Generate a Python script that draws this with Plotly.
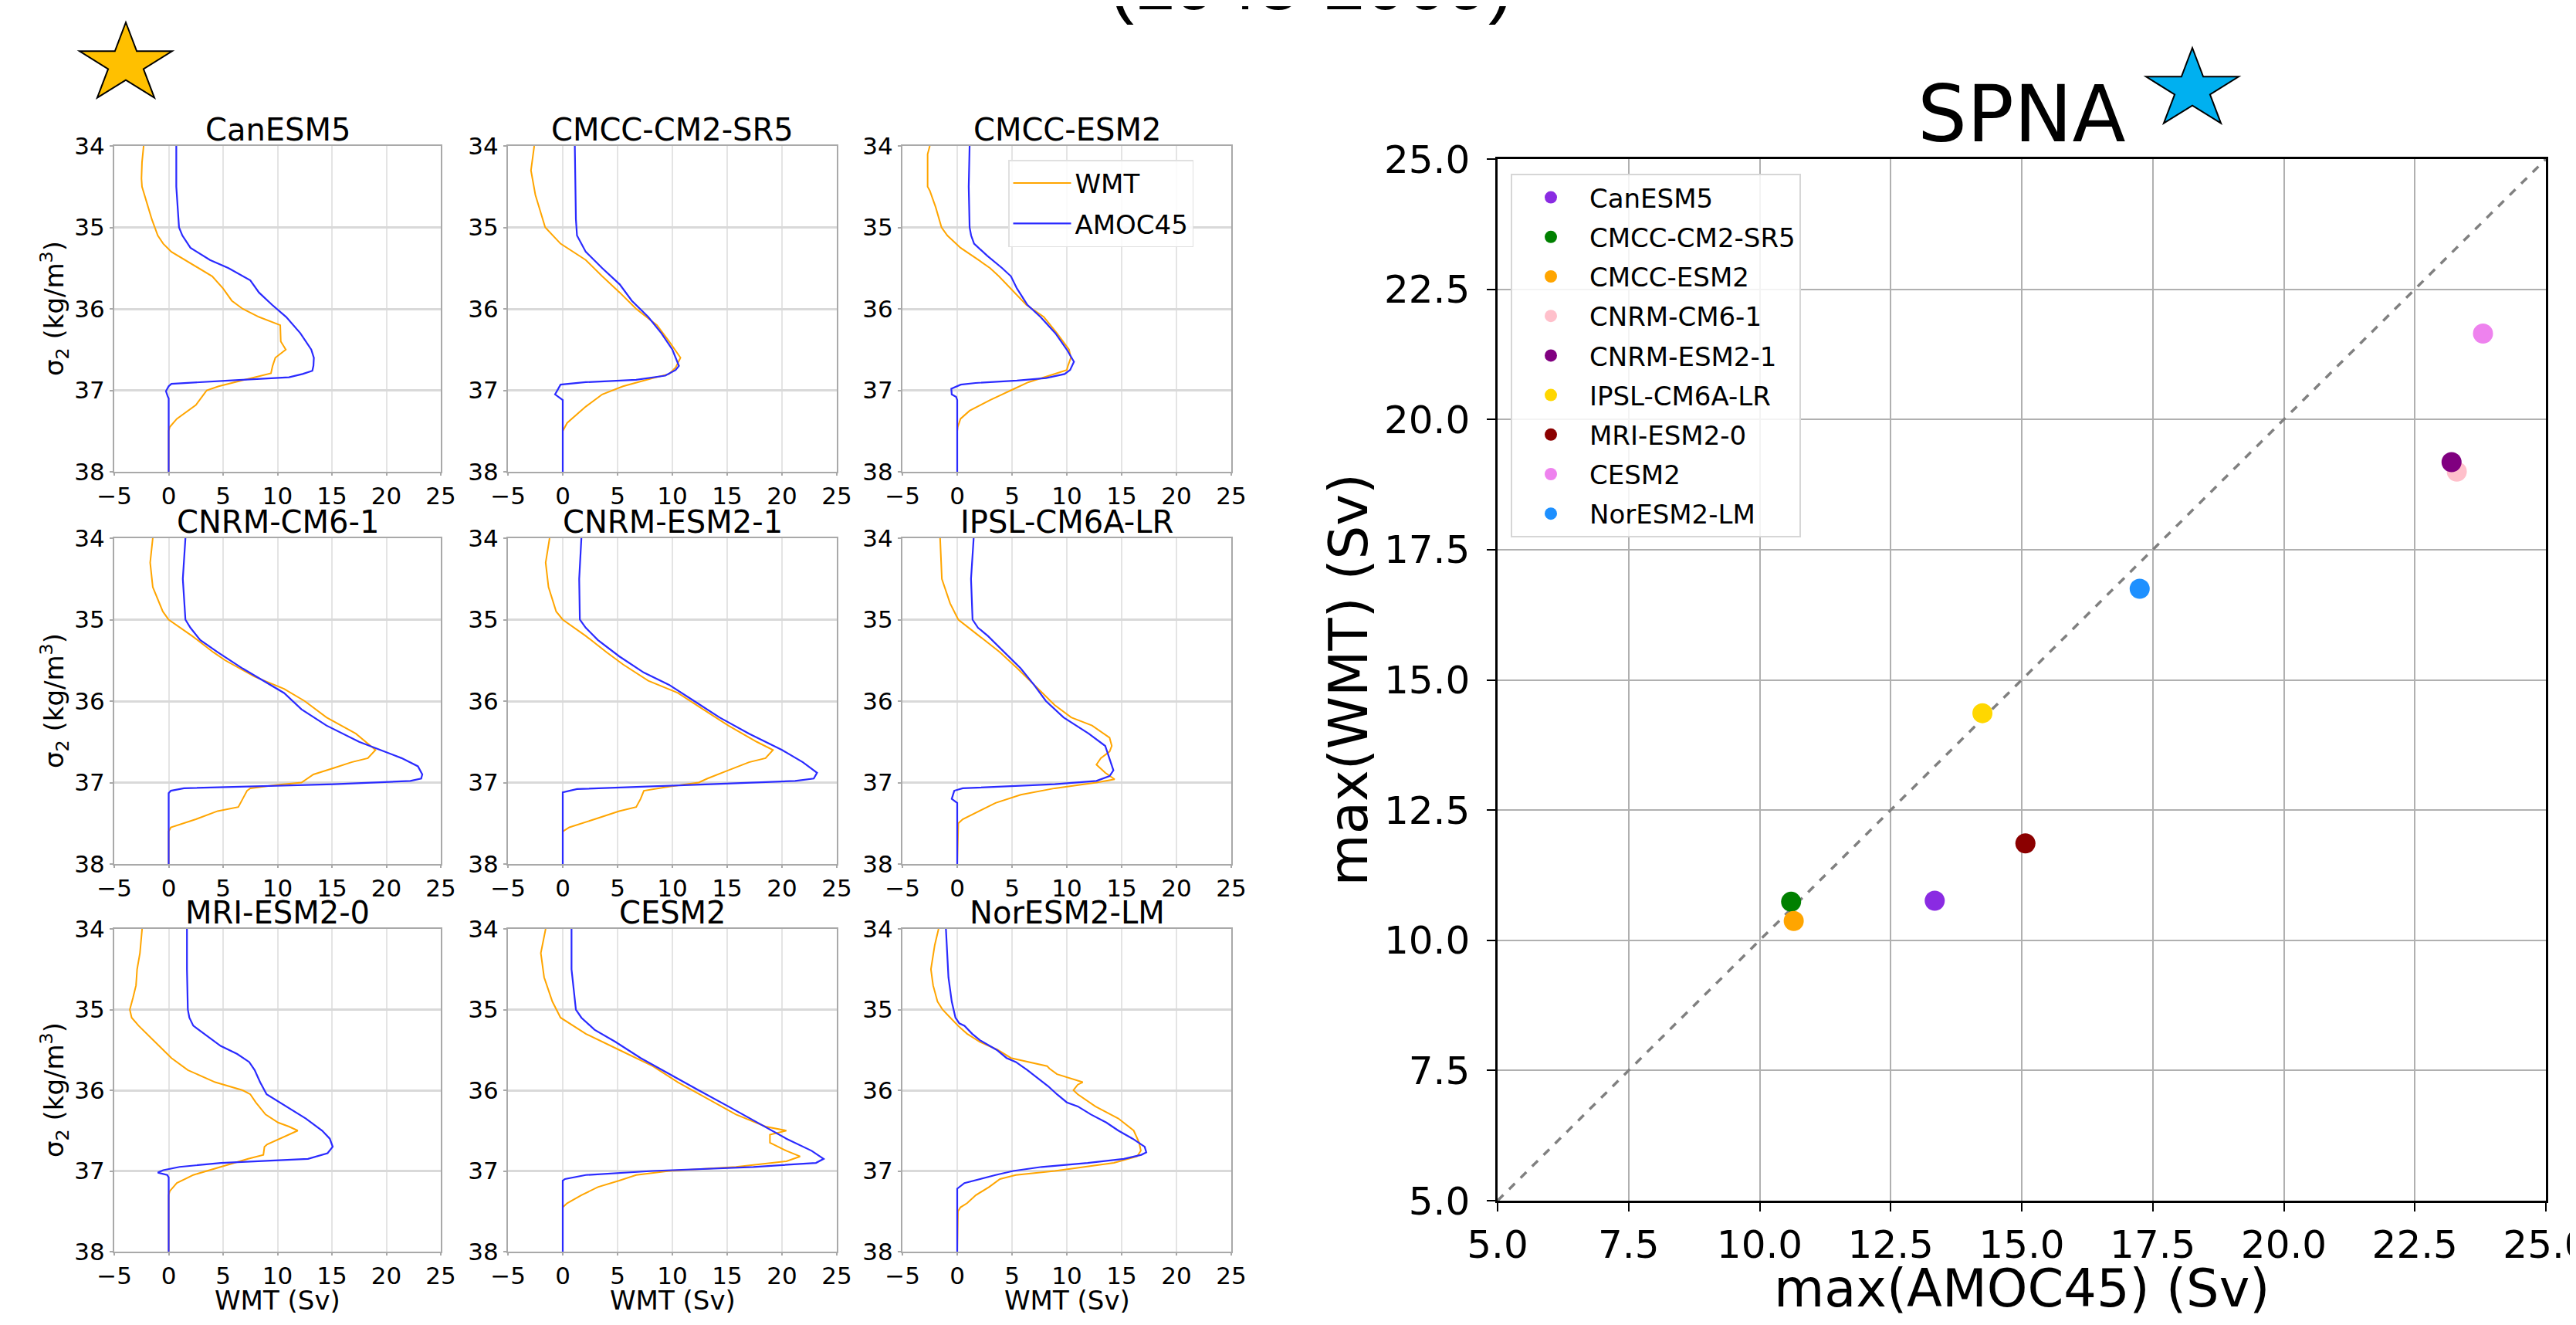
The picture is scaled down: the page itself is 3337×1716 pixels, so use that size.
import math
import plotly.graph_objects as go

W, H = 3337, 1716          # screenshot size
OFF = 8                    # default page body margin of the browser
FW, FH = W - 2 * OFF, H - 2 * OFF

# ---------------- data ----------------
MODELS = ["CanESM5", "CMCC-CM2-SR5", "CMCC-ESM2", "CNRM-CM6-1", "CNRM-ESM2-1",
          "IPSL-CM6A-LR", "MRI-ESM2-0", "CESM2", "NorESM2-LM"]
SCATTER_COLORS = ["#8A2BE2", "#008000", "#FFA500", "#FFC0CB", "#800080",
                  "#FFD700", "#8B0000", "#EE82EE", "#1E90FF"]
MAX_AMOC45 = [13.34, 10.6, 10.65, 23.3, 23.2, 14.25, 15.07, 23.8, 17.25]
MAX_WMT = [10.76, 10.74, 10.37, 19.0, 19.18, 14.36, 11.86, 21.65, 16.75]

X_TICKS_PROFILE = [-5, 0, 5, 10, 15, 20, 25]
Y_TICKS_PROFILE = [34, 35, 36, 37, 38]
TICKS_SCATTER = [5.0, 7.5, 10.0, 12.5, 15.0, 17.5, 20.0, 22.5, 25.0]
ONE_TO_ONE = [5.0, 25.0]

# CanESM5
SIG_WMT_CANESM5 = [34.0, 34.2, 34.4, 34.5, 34.7, 34.9, 35.1, 35.2, 35.3, 35.5, 35.6, 35.75, 35.9, 36.0, 36.1, 36.2, 36.4, 36.5, 36.6, 36.7, 36.79, 36.87, 36.95, 37.0, 37.18, 37.35, 37.45, 37.5, 38.0]
WMT_CANESM5 = [-2.3, -2.45, -2.5, -2.45, -2.0, -1.55, -1.0, -0.5, 0.25, 2.8, 4.0, 5.0, 5.8, 6.8, 8.3, 10.25, 10.3, 10.76, 9.8, 9.55, 9.4, 7.0, 4.6, 3.5, 2.5, 0.75, 0.1, 0.0, 0.0]
SIG_AMOC_CANESM5 = [34.0, 34.5, 35.0, 35.1, 35.25, 35.4, 35.5, 35.6, 35.65, 35.8, 35.95, 36.1, 36.3, 36.5, 36.6, 36.7, 36.76, 36.8, 36.84, 36.88, 36.92, 36.95, 37.01, 37.07, 37.1, 38.0]
AMOC_CANESM5 = [0.7, 0.7, 0.95, 1.26, 2.0, 3.8, 5.5, 6.8, 7.5, 8.3, 9.5, 10.8, 12.1, 13.1, 13.34, 13.3, 13.2, 12.3, 11.05, 5.5, 0.25, 0.0, -0.25, -0.1, 0.0, 0.0]

# CMCC-CM2-SR5
SIG_WMT_CMCC_CM2 = [34.0, 34.3, 34.6, 35.0, 35.2, 35.4, 35.6, 35.8, 36.0, 36.2, 36.4, 36.6, 36.72, 36.8, 36.85, 36.95, 37.05, 37.2, 37.4, 37.5, 38.0]
WMT_CMCC_CM2 = [-2.6, -2.9, -2.5, -1.6, -0.2, 2.1, 3.6, 5.2, 6.7, 8.6, 9.7, 10.74, 10.3, 9.7, 8.2, 5.5, 3.6, 2.1, 0.4, 0.0, 0.0]
SIG_AMOC_CMCC_CM2 = [34.0, 34.9, 35.1, 35.3, 35.5, 35.7, 35.9, 36.1, 36.3, 36.5, 36.7, 36.75, 36.82, 36.87, 36.9, 36.93, 37.05, 37.1, 37.12, 38.0]
AMOC_CMCC_CM2 = [1.1, 1.2, 1.3, 2.1, 3.6, 5.2, 6.3, 7.8, 9.0, 10.0, 10.6, 10.3, 9.35, 6.7, 2.1, -0.2, -0.7, -0.2, 0.0, 0.0]

# CMCC-ESM2
SIG_WMT_CMCC_ESM2 = [34.0, 34.1, 34.5, 34.55, 34.75, 35.0, 35.1, 35.25, 35.4, 35.5, 35.6, 35.8, 35.95, 36.1, 36.3, 36.5, 36.6, 36.7, 36.75, 36.82, 36.9, 37.0, 37.05, 37.12, 37.25, 37.35, 37.45, 37.5, 38.0]
WMT_CMCC_ESM2 = [-2.5, -2.7, -2.7, -2.5, -1.97, -1.43, -0.9, 0.3, 1.94, 3.0, 3.8, 5.2, 6.3, 7.9, 9.1, 10.2, 10.37, 10.1, 10.0, 8.4, 6.5, 4.9, 4.1, 3.0, 1.13, 0.3, 0.05, 0.0, 0.0]
SIG_AMOC_CMCC_ESM2 = [34.0, 34.5, 35.0, 35.1, 35.2, 35.35, 35.5, 35.6, 35.75, 35.95, 36.1, 36.3, 36.5, 36.65, 36.75, 36.8, 36.85, 36.88, 36.91, 36.93, 36.98, 37.05, 37.08, 37.12, 38.0]
AMOC_CMCC_ESM2 = [1.13, 1.05, 1.13, 1.27, 1.54, 2.75, 4.1, 4.9, 5.45, 6.4, 7.6, 8.96, 10.0, 10.65, 10.3, 9.8, 8.1, 5.45, 1.67, 0.32, -0.54, -0.5, -0.1, 0.0, 0.0]

# CNRM-CM6-1
SIG_WMT_CNRM_CM6 = [34.0, 34.3, 34.6, 34.9, 35.0, 35.2, 35.4, 35.5, 35.7, 35.85, 36.0, 36.2, 36.4, 36.6, 36.7, 36.75, 36.82, 36.9, 37.0, 37.03, 37.07, 37.1, 37.2, 37.3, 37.35, 37.45, 37.55, 37.6, 38.0]
WMT_CNRM_CM6 = [-1.46, -1.7, -1.46, -0.54, 0.0, 2.15, 4.1, 5.2, 7.9, 10.6, 12.5, 14.5, 17.2, 19.0, 18.3, 16.8, 15.2, 13.3, 12.2, 9.8, 7.5, 7.2, 6.8, 6.4, 4.5, 2.5, 0.2, 0.0, 0.0]
SIG_AMOC_CNRM_CM6 = [34.0, 34.5, 35.0, 35.1, 35.25, 35.4, 35.6, 35.75, 35.9, 36.1, 36.3, 36.5, 36.6, 36.7, 36.8, 36.9, 36.95, 36.98, 37.02, 37.05, 37.07, 37.1, 37.13, 38.0]
AMOC_CNRM_CM6 = [1.54, 1.3, 1.54, 2.0, 2.9, 4.5, 6.8, 8.7, 10.6, 12.2, 14.5, 17.5, 19.5, 21.4, 22.9, 23.3, 23.2, 22.2, 15.2, 7.5, 1.4, 0.2, 0.0, 0.0]

# CNRM-ESM2-1
SIG_WMT_CNRM_ESM2 = [34.0, 34.3, 34.6, 34.9, 35.0, 35.2, 35.4, 35.55, 35.75, 35.9, 36.1, 36.3, 36.5, 36.6, 36.7, 36.75, 36.85, 36.95, 37.0, 37.05, 37.1, 37.2, 37.3, 37.35, 37.45, 37.55, 37.6, 38.0]
WMT_CNRM_ESM2 = [-1.2, -1.56, -1.3, -0.6, 0.0, 2.1, 4.0, 5.5, 7.8, 10.5, 12.8, 15.1, 17.7, 19.18, 18.5, 17.0, 15.1, 13.2, 12.4, 9.7, 7.4, 7.1, 6.7, 5.15, 2.9, 0.6, 0.0, 0.0]
SIG_AMOC_CNRM_ESM2 = [34.0, 34.5, 35.0, 35.1, 35.25, 35.45, 35.65, 35.8, 36.0, 36.2, 36.4, 36.6, 36.75, 36.88, 36.95, 36.98, 37.02, 37.05, 37.08, 37.12, 38.0]
AMOC_CNRM_ESM2 = [1.7, 1.5, 1.56, 2.1, 3.2, 5.15, 7.4, 9.7, 12.0, 14.3, 17.0, 20.0, 21.9, 23.2, 22.9, 21.2, 13.5, 6.7, 1.3, 0.0, 0.0]

# IPSL-CM6A-LR
SIG_WMT_IPSL = [34.0, 34.5, 34.8, 35.0, 35.2, 35.4, 35.6, 35.85, 36.05, 36.2, 36.3, 36.45, 36.55, 36.62, 36.7, 36.78, 36.88, 36.96, 37.0, 37.07, 37.15, 37.25, 37.35, 37.45, 37.5, 38.0]
WMT_IPSL = [-1.56, -1.4, -0.65, 0.1, 2.0, 3.9, 5.5, 7.4, 8.9, 10.4, 12.3, 13.9, 14.1, 13.9, 13.1, 12.7, 13.5, 14.36, 12.7, 8.9, 5.8, 3.5, 2.0, 0.5, 0.1, 0.0]
SIG_AMOC_IPSL = [34.0, 34.5, 35.0, 35.1, 35.2, 35.4, 35.6, 35.8, 36.0, 36.2, 36.4, 36.55, 36.7, 36.85, 36.92, 36.98, 37.02, 37.07, 37.1, 37.2, 37.25, 38.0]
AMOC_IPSL = [1.5, 1.26, 1.4, 1.9, 2.8, 4.3, 5.8, 7.0, 8.1, 9.7, 12.0, 13.5, 13.9, 14.25, 13.9, 12.7, 8.9, 0.5, -0.27, -0.5, 0.0, 0.0]

# MRI-ESM2-0
SIG_WMT_MRI = [34.0, 34.3, 34.5, 34.7, 34.85, 35.0, 35.1, 35.2, 35.4, 35.6, 35.75, 35.9, 36.0, 36.05, 36.15, 36.3, 36.4, 36.45, 36.5, 36.58, 36.67, 36.7, 36.8, 36.85, 36.95, 37.05, 37.15, 37.25, 37.3, 38.0]
WMT_MRI = [-2.44, -2.64, -2.9, -3.0, -3.27, -3.57, -3.4, -2.76, -1.26, 0.25, 1.76, 4.27, 6.8, 7.5, 8.0, 8.9, 10.05, 11.05, 11.86, 10.55, 9.05, 8.8, 8.7, 7.3, 4.77, 2.26, 0.75, 0.1, 0.0, 0.0]
SIG_AMOC_MRI = [34.0, 34.5, 35.0, 35.1, 35.2, 35.3, 35.45, 35.55, 35.65, 35.75, 35.9, 36.05, 36.2, 36.35, 36.5, 36.6, 36.7, 36.78, 36.85, 36.9, 36.95, 36.99, 37.02, 37.05, 37.08, 38.0]
AMOC_MRI = [1.68, 1.68, 1.76, 1.9, 2.26, 3.27, 4.77, 6.3, 7.4, 7.9, 8.4, 9.0, 10.8, 12.6, 14.1, 14.8, 15.07, 14.6, 12.8, 4.8, 1.0, -0.5, -1.0, -0.13, 0.0, 0.0]

# CESM2
SIG_WMT_CESM2 = [34.0, 34.3, 34.6, 34.9, 35.1, 35.3, 35.5, 35.7, 35.9, 36.1, 36.3, 36.45, 36.5, 36.55, 36.65, 36.75, 36.82, 36.88, 36.95, 37.0, 37.05, 37.12, 37.2, 37.3, 37.4, 37.45, 38.0]
WMT_CESM2 = [-1.56, -2.0, -1.7, -0.95, -0.2, 2.1, 5.15, 8.2, 10.5, 13.2, 15.8, 18.5, 20.4, 18.9, 18.9, 20.4, 21.65, 20.4, 15.8, 9.7, 6.7, 5.15, 3.2, 1.7, 0.4, 0.0, 0.0]
SIG_AMOC_CESM2 = [34.0, 34.5, 35.0, 35.1, 35.25, 35.4, 35.6, 35.8, 36.0, 36.2, 36.4, 36.6, 36.75, 36.85, 36.9, 36.95, 37.0, 37.05, 37.1, 37.12, 38.0]
AMOC_CESM2 = [0.8, 0.8, 1.2, 1.7, 2.9, 4.8, 7.1, 9.7, 12.4, 15.1, 17.7, 20.4, 22.7, 23.8, 23.1, 17.4, 8.2, 2.1, 0.2, 0.0, 0.0]

# NorESM2-LM
SIG_WMT_NORESM2 = [34.0, 34.2, 34.5, 34.7, 34.9, 35.0, 35.1, 35.2, 35.3, 35.4, 35.5, 35.6, 35.7, 35.73, 35.8, 35.9, 35.93, 36.0, 36.05, 36.2, 36.35, 36.5, 36.65, 36.75, 36.82, 36.9, 37.0, 37.05, 37.1, 37.2, 37.3, 37.4, 37.45, 37.5, 38.0]
WMT_NORESM2 = [-1.7, -2.05, -2.4, -2.2, -1.8, -1.34, -0.63, 0.07, 0.9, 2.07, 3.7, 4.9, 8.2, 8.4, 9.1, 11.45, 11.0, 10.6, 11.0, 12.6, 14.7, 16.1, 16.6, 16.75, 16.4, 14.3, 8.9, 5.35, 3.9, 2.9, 1.7, 0.9, 0.3, 0.07, 0.0]
SIG_AMOC_NORESM2 = [34.0, 34.3, 34.6, 34.9, 35.1, 35.17, 35.2, 35.3, 35.38, 35.5, 35.6, 35.65, 35.75, 35.85, 35.95, 36.05, 36.15, 36.2, 36.3, 36.4, 36.5, 36.6, 36.7, 36.77, 36.8, 36.85, 36.9, 36.95, 37.0, 37.05, 37.15, 37.22, 38.0]
AMOC_NORESM2 = [-1.03, -0.94, -0.8, -0.5, -0.16, 0.19, 0.66, 1.36, 2.07, 3.6, 4.5, 5.35, 6.4, 7.35, 8.3, 9.1, 10.0, 11.0, 12.2, 13.6, 14.7, 16.0, 17.1, 17.25, 16.8, 15.2, 11.9, 7.7, 5.1, 3.5, 0.66, 0.0, 0.0]

PROFILES = {
    "CanESM5": (SIG_WMT_CANESM5, WMT_CANESM5, SIG_AMOC_CANESM5, AMOC_CANESM5),
    "CMCC-CM2-SR5": (SIG_WMT_CMCC_CM2, WMT_CMCC_CM2, SIG_AMOC_CMCC_CM2, AMOC_CMCC_CM2),
    "CMCC-ESM2": (SIG_WMT_CMCC_ESM2, WMT_CMCC_ESM2, SIG_AMOC_CMCC_ESM2, AMOC_CMCC_ESM2),
    "CNRM-CM6-1": (SIG_WMT_CNRM_CM6, WMT_CNRM_CM6, SIG_AMOC_CNRM_CM6, AMOC_CNRM_CM6),
    "CNRM-ESM2-1": (SIG_WMT_CNRM_ESM2, WMT_CNRM_ESM2, SIG_AMOC_CNRM_ESM2, AMOC_CNRM_ESM2),
    "IPSL-CM6A-LR": (SIG_WMT_IPSL, WMT_IPSL, SIG_AMOC_IPSL, AMOC_IPSL),
    "MRI-ESM2-0": (SIG_WMT_MRI, WMT_MRI, SIG_AMOC_MRI, AMOC_MRI),
    "CESM2": (SIG_WMT_CESM2, WMT_CESM2, SIG_AMOC_CESM2, AMOC_CESM2),
    "NorESM2-LM": (SIG_WMT_NORESM2, WMT_NORESM2, SIG_AMOC_NORESM2, AMOC_NORESM2),
}


# ---------------- layout helpers (screen pixels -> paper) ----------------
def fx(p):
    return (p - OFF) / FW


def fy(p):
    return 1 - (p - OFF) / FH


COLS_PX = [(148, 571), (658, 1084), (1169, 1595)]
ROWS_PX = [(189, 611), (697, 1119), (1203, 1621)]
SC_X = (1940, 3298)
SC_Y = (206, 1555)

FONT = "DejaVu Sans"
WMT_COLOR = "#FFA500"
AMOC_COLOR = "#2a2aff"
FRAME = "#a9a9a9"

fig = go.Figure()
layout = {}
annotations = []


def ax_name(kind, i):
    return kind if i == 1 else f"{kind}{i}"


for i, m in enumerate(MODELS):
    k = i + 1
    r, c = divmod(i, 3)
    sw, w, sa, a = PROFILES[m]
    show = (m == "CMCC-ESM2")
    fig.add_trace(go.Scatter(x=w, y=sw, mode="lines", name="WMT",
                             line=dict(color=WMT_COLOR, width=2),
                             xaxis=ax_name("x", k), yaxis=ax_name("y", k),
                             showlegend=show, legend="legend2", legendgroup="wmt"))
    fig.add_trace(go.Scatter(x=a, y=sa, mode="lines", name="AMOC45",
                             line=dict(color=AMOC_COLOR, width=2.2),
                             xaxis=ax_name("x", k), yaxis=ax_name("y", k),
                             showlegend=show, legend="legend2", legendgroup="amoc"))
    x0, x1 = COLS_PX[c]
    y0, y1 = ROWS_PX[r]
    layout[ax_name("xaxis", k)] = dict(
        domain=[fx(x0), fx(x1)], range=[-5, 25], anchor=ax_name("y", k), automargin=False,
        tickmode="array", tickvals=X_TICKS_PROFILE,
        ticktext=[str(v).replace("-", "\u2212") for v in X_TICKS_PROFILE],
        showgrid=True, gridcolor="#e4e4e4", gridwidth=1.5, zeroline=False,
        showline=True, linecolor=FRAME, linewidth=2, mirror=True,
        ticks="outside", ticklen=3, tickwidth=1.5, tickcolor=FRAME,
        tickfont=dict(size=31, color="black", family=FONT))
    layout[ax_name("yaxis", k)] = dict(
        domain=[fy(y1), fy(y0)], range=[38, 34], anchor=ax_name("x", k), automargin=False,
        tickmode="array", tickvals=Y_TICKS_PROFILE,
        ticktext=[str(v) for v in Y_TICKS_PROFILE],
        showgrid=True, gridcolor="#d9d9d9", gridwidth=2.5, zeroline=False,
        showline=True, linecolor=FRAME, linewidth=2, mirror=True,
        ticks="outside", ticklen=4, tickwidth=1.5, tickcolor=FRAME,
        tickfont=dict(size=31, color="black", family=FONT))
    annotations.append(dict(text=m, x=fx((x0 + x1) / 2), y=fy(y0 - 21),
                            xref="paper", yref="paper", xanchor="center", yanchor="middle",
                            showarrow=False, font=dict(size=40, color="black", family=FONT)))
    if c == 0:
        annotations.append(dict(text="\u03c3<sub>2</sub> (kg/m<sup>3</sup>)",
                                x=fx(70), y=fy((y0 + y1) / 2), textangle=-90,
                                xref="paper", yref="paper", xanchor="center", yanchor="middle",
                                showarrow=False, font=dict(size=34, color="black", family=FONT)))
    if r == 2:
        annotations.append(dict(text="WMT (Sv)", x=fx((x0 + x1) / 2), y=fy(1684),
                                xref="paper", yref="paper", xanchor="center", yanchor="middle",
                                showarrow=False, font=dict(size=34, color="black", family=FONT)))

# ---------------- scatter panel ----------------
K = 10
fig.add_trace(go.Scatter(x=ONE_TO_ONE, y=ONE_TO_ONE, mode="lines",
                         line=dict(color="#808080", width=3.5, dash="dash"),
                         xaxis=ax_name("x", K), yaxis=ax_name("y", K), showlegend=False,
                         hoverinfo="skip"))
for m, col, xa, ya in zip(MODELS, SCATTER_COLORS, MAX_AMOC45, MAX_WMT):
    fig.add_trace(go.Scatter(x=[xa], y=[ya], mode="markers", name=m,
                             marker=dict(color=col, size=26),
                             xaxis=ax_name("x", K), yaxis=ax_name("y", K),
                             legend="legend", legendgroup=m))

sc_common = dict(
    range=[5, 25], automargin=False, ticklabeloverflow="allow",
    tickmode="array", tickvals=TICKS_SCATTER, ticktext=[f"{v:.1f}" for v in TICKS_SCATTER],
    showgrid=True, gridcolor="#b0b0b0", gridwidth=2, zeroline=False,
    showline=True, linecolor="black", linewidth=2.5, mirror=True,
    ticks="outside", ticklen=11, tickwidth=2, tickcolor="black",
    tickfont=dict(size=50, color="black", family=FONT))
layout[ax_name("xaxis", K)] = dict(domain=[fx(SC_X[0]), fx(SC_X[1])], anchor=ax_name("y", K),
                                   ticklabelstandoff=0, **sc_common)
layout[ax_name("yaxis", K)] = dict(domain=[fy(SC_Y[1]), fy(SC_Y[0])], anchor=ax_name("x", K),
                                   ticklabelstandoff=12, **sc_common)

annotations.append(dict(text="max(AMOC45) (Sv)", x=fx((SC_X[0] + SC_X[1]) / 2), y=fy(1669),
                        xref="paper", yref="paper", xanchor="center", yanchor="middle",
                        showarrow=False, font=dict(size=67, color="black", family=FONT)))
annotations.append(dict(text="max(WMT) (Sv)", x=fx(1747), y=fy((SC_Y[0] + SC_Y[1]) / 2),
                        textangle=-90, xref="paper", yref="paper", xanchor="center", yanchor="middle",
                        showarrow=False, font=dict(size=69, color="black", family=FONT)))
annotations.append(dict(text="SPNA", x=fx((SC_X[0] + SC_X[1]) / 2), y=fy(148),
                        xref="paper", yref="paper", xanchor="center", yanchor="middle",
                        showarrow=False, font=dict(size=101, color="black", family=FONT)))
annotations.append(dict(text="(1948-2009)", x=fx(1698), y=fy(-21),
                        xref="paper", yref="paper", xanchor="center", yanchor="middle",
                        showarrow=False, font=dict(size=96, color="black", family="Liberation Sans")))


# ---------------- decorative stars ----------------
def star_path(cx, cy, rx, ry, ratio=0.382):
    pts = []
    for j in range(10):
        ang = math.radians(-90 + 36 * j)
        s = 1.0 if j % 2 == 0 else ratio
        pts.append((fx(cx + rx * s * math.cos(ang)), fy(cy + ry * s * math.sin(ang))))
    return "M " + " L ".join(f"{px:.5f},{py:.5f}" for px, py in pts) + " Z"


shapes = [
    dict(type="path", path=star_path(163, 83, 63, 54), xref="paper", yref="paper",
         fillcolor="#FFC000", line=dict(color="black", width=2)),
    dict(type="path", path=star_path(2840, 116, 63, 54), xref="paper", yref="paper",
         fillcolor="#00B0F0", line=dict(color="black", width=2)),
]

fig.update_layout(
    template="none",
    width=FW, height=FH, margin=dict(l=0, r=0, t=0, b=0, pad=0, autoexpand=False),
    paper_bgcolor="white", plot_bgcolor="white",
    font=dict(family=FONT, color="black"),
    annotations=annotations, shapes=shapes,
    legend=dict(x=fx(1957), y=fy(225), xanchor="left", yanchor="top",
                bgcolor="rgba(255,255,255,0.85)", bordercolor="#d6d6d6", borderwidth=2,
                font=dict(size=34, color="black", family=FONT), itemwidth=90,
                tracegroupgap=4),
    legend2=dict(x=fx(1306), y=fy(207), xanchor="left", yanchor="top",
                 bgcolor="rgba(255,255,255,0.85)", bordercolor="#e0e0e0", borderwidth=1.5,
                 font=dict(size=34, color="black", family=FONT), itemwidth=75,
                 tracegroupgap=5),
    **layout,
)

fig.write_html("out.html")
